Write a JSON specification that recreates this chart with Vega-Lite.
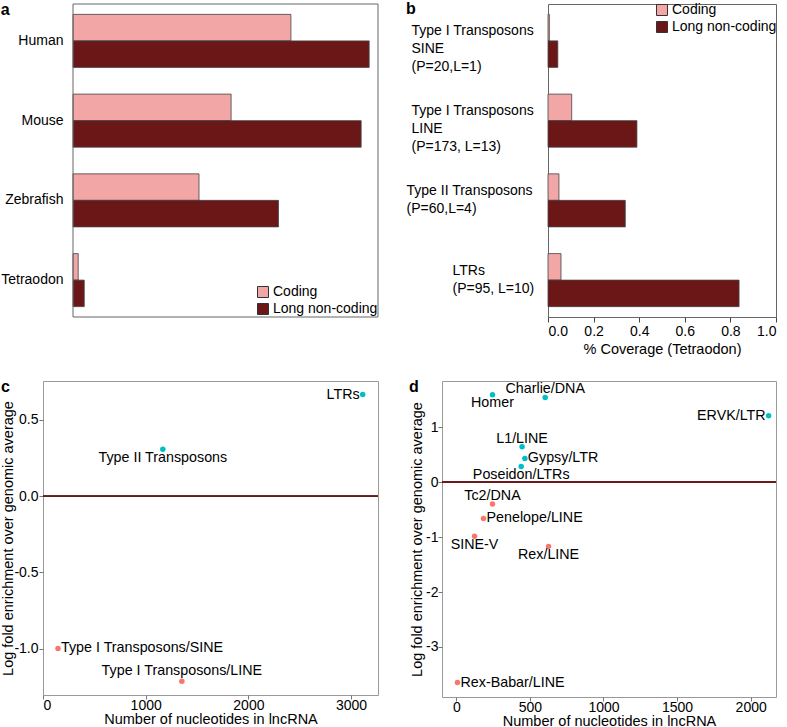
{
  "$schema": "https://vega.github.io/schema/vega-lite/v6.json",
  "background": "white",
  "padding": {"left": 0, "top": 0, "right": 0, "bottom": 0},
  "config": {
    "font": "Liberation Sans",
    "axis": {"labelFontSize": 14, "titleFontSize": 14.5, "titleFontWeight": "normal", "labelColor": "#000", "titleColor": "#000", "grid": false, "domain": false, "tickColor": "#444"},
    "title": {"fontSize": 16, "fontWeight": "bold", "anchor": "start", "frame": "bounds", "color": "#000"},
    "legend": {"labelFontSize": 14, "labelColor": "#000"}
  },
  "spacing": 22,
  "resolve": {"scale": {"color": "independent", "x": "independent", "y": "independent"}, "legend": {"color": "independent"}},
  "vconcat": [
    {
      "spacing": 26,
      "resolve": {"scale": {"color": "independent", "x": "independent", "y": "independent"}, "legend": {"color": "independent"}},
      "hconcat": [
        {
          "width": 335,
          "height": 313,
          "view": {"stroke": null},
          "title": {"text": "a", "offset": -14},
          "data": {"values": [
            {"species": "Human", "type": "Coding", "pct": 54.3},
            {"species": "Human", "type": "Long non-coding", "pct": 73.8},
            {"species": "Mouse", "type": "Coding", "pct": 39.4},
            {"species": "Mouse", "type": "Long non-coding", "pct": 71.8},
            {"species": "Zebrafish", "type": "Coding", "pct": 31.4},
            {"species": "Zebrafish", "type": "Long non-coding", "pct": 51.2},
            {"species": "Tetraodon", "type": "Coding", "pct": 1.3},
            {"species": "Tetraodon", "type": "Long non-coding", "pct": 2.8}
          ]},
          "layer": [
            {
              "mark": {"type": "bar", "stroke": "#444", "strokeWidth": 0.8},
              "encoding": {
                "y": {"field": "species", "type": "nominal", "sort": ["Human", "Mouse", "Zebrafish", "Tetraodon"],
                      "scale": {"paddingInner": 0.335, "paddingOuter": 0.13},
                      "axis": {"title": null, "ticks": false, "tickSize": 0, "labelPadding": 10, "offset": -30}},
                "yOffset": {"field": "type", "type": "nominal", "sort": ["Coding", "Long non-coding"], "scale": {"paddingInner": 0, "paddingOuter": 0}},
                "x": {"field": "pct", "type": "quantitative", "scale": {"domain": [0, 76], "nice": false, "zero": true, "range": [30, 335]},
                      "axis": {"values": [0, 10, 20, 30, 40, 50, 60, 70], "title": "% Genes with TE overlap in exons", "tickSize": 5, "labelPadding": 2, "titlePadding": 4}},
                "color": {"field": "type", "type": "nominal", "scale": {"domain": ["Coding", "Long non-coding"], "range": ["#F2A6A6", "#6B1717"]},
                          "legend": {"title": null, "orient": "bottom-right", "offset": 0.5, "padding": 0, "symbolType": "square", "symbolSize": 121, "symbolStrokeColor": "#333", "symbolStrokeWidth": 1, "symbolOpacity": 1, "rowPadding": 1, "labelOffset": 3}}
              }
            },
            {
              "data": {"values": [{"from": 0, "to": 76}]},
              "mark": {"type": "rect", "fillOpacity": 0, "stroke": "#666", "strokeWidth": 1},
              "encoding": {
                "x": {"field": "from", "type": "quantitative", "scale": {"domain": [0, 76], "nice": false, "zero": true, "range": [30, 335]}, "axis": null},
                "x2": {"field": "to"}
              }
            }
          ]
        },
        {
          "width": 228,
          "height": 313,
          "view": {"stroke": "#666"},
          "title": {"text": "b", "offset": -14},
          "data": {"values": [
            {"family": "Type I Transposons\nSINE\n(P=20,L=1)", "type": "Coding", "coverage": 0.006},
            {"family": "Type I Transposons\nSINE\n(P=20,L=1)", "type": "Long non-coding", "coverage": 0.043},
            {"family": "Type I Transposons\nLINE\n(P=173, L=13)", "type": "Coding", "coverage": 0.104},
            {"family": "Type I Transposons\nLINE\n(P=173, L=13)", "type": "Long non-coding", "coverage": 0.39},
            {"family": "Type II Transposons\n(P=60,L=4)", "type": "Coding", "coverage": 0.048},
            {"family": "Type II Transposons\n(P=60,L=4)", "type": "Long non-coding", "coverage": 0.339},
            {"family": "LTRs\n(P=95, L=10)", "type": "Coding", "coverage": 0.057},
            {"family": "LTRs\n(P=95, L=10)", "type": "Long non-coding", "coverage": 0.838}
          ]},
          "mark": {"type": "bar", "stroke": "#444", "strokeWidth": 0.8},
          "encoding": {
            "y": {"field": "family", "type": "nominal",
                  "sort": ["Type I Transposons\nSINE\n(P=20,L=1)", "Type I Transposons\nLINE\n(P=173, L=13)", "Type II Transposons\n(P=60,L=4)", "LTRs\n(P=95, L=10)"],
                  "scale": {"paddingInner": 0.335, "paddingOuter": 0.13},
                  "axis": {"title": null, "ticks": false, "tickSize": 0, "labelExpr": "split(datum.label, '\\n')",
                           "labelAlign": "left", "labelBaseline": "middle", "labelLineHeight": 18, "labelLimit": 250,
                           "labelPadding": {"condition": [{"test": "indexof(datum.value, 'LTRs') == 0", "value": 96}, {"test": "indexof(datum.value, 'Type II') == 0", "value": 142}], "value": 137},
                           "labelOffset": -9.5}},
            "yOffset": {"field": "type", "type": "nominal", "sort": ["Coding", "Long non-coding"], "scale": {"paddingInner": 0, "paddingOuter": 0}},
            "x": {"field": "coverage", "type": "quantitative", "scale": {"domain": [0, 1], "nice": false},
                  "axis": {"values": [0, 0.2, 0.4, 0.6, 0.8, 1.0], "format": ".1f", "title": "% Coverage (Tetraodon)", "tickSize": 5, "labelPadding": 2, "titlePadding": 4}},
            "color": {"field": "type", "type": "nominal", "scale": {"domain": ["Coding", "Long non-coding"], "range": ["#F2A6A6", "#6B1717"]},
                      "legend": {"title": null, "orient": "top-right", "offset": -1, "padding": 0, "symbolType": "square", "symbolSize": 121, "symbolStrokeColor": "#333", "symbolStrokeWidth": 1, "symbolOpacity": 1, "rowPadding": 1, "labelOffset": 3}}
          }
        }
      ]
    },
    {
      "spacing": 28,
      "hconcat": [
        {
          "width": 335,
          "height": 314,
          "view": {"stroke": "#999"},
          "title": {"text": "c", "offset": -14},
          "data": {"values": [
            {"name": "LTRs", "nt": 3113, "lfe": 0.666},
            {"name": "Type II Transposons", "nt": 1167, "lfe": 0.308},
            {"name": "Type I Transposons/SINE", "nt": 146, "lfe": -0.998},
            {"name": "Type I Transposons/LINE", "nt": 1352, "lfe": -1.213}
          ]},
          "encoding": {
            "x": {"field": "nt", "type": "quantitative", "scale": {"domain": [0, 3262], "nice": false, "zero": false},
                  "axis": {"values": [0, 1000, 2000, 3000], "format": "d", "title": "Number of nucleotides in lncRNA", "tickSize": 4, "labelPadding": -0.5, "titlePadding": 0, "tickColor": "#777"}},
            "y": {"field": "lfe", "type": "quantitative", "scale": {"domain": [-1.303, 0.755], "nice": false, "zero": false},
                  "axis": {"values": [-1, -0.5, 0, 0.5], "format": ".1f", "labelExpr": "replace(datum.label, '\u2212', '-')", "title": "Log fold enrichment over genomic average", "tickSize": 4, "labelPadding": 1, "titlePadding": -2, "tickColor": "#777"}}
          },
          "layer": [
            {"mark": {"type": "rule", "color": "#6B1A1A", "strokeWidth": 1.5}, "encoding": {"y": {"datum": 0}, "x": {"value": 0}, "x2": {"value": "width"}}},
            {"mark": {"type": "circle", "size": 30, "opacity": 1},
             "encoding": {"color": {"condition": {"test": "datum.lfe > 0", "value": "#00BFC4"}, "value": "#F8766D"}}},
            {"transform": [{"filter": {"field": "name", "oneOf": ["LTRs"]}}],
             "mark": {"type": "text", "align": "right", "baseline": "middle", "dx": -3, "fontSize": 14.3, "color": "#000"},
             "encoding": {"text": {"field": "name"}}},
            {"transform": [{"filter": {"field": "name", "oneOf": ["Type I Transposons/SINE"]}}],
             "mark": {"type": "text", "align": "left", "baseline": "middle", "dx": 3, "fontSize": 14.3, "color": "#000"},
             "encoding": {"text": {"field": "name"}}},
            {"transform": [{"filter": {"field": "name", "oneOf": ["Type II Transposons"]}}],
             "mark": {"type": "text", "align": "center", "baseline": "middle", "dy": 8.5, "fontSize": 14.3, "color": "#000"},
             "encoding": {"text": {"field": "name"}}},
            {"transform": [{"filter": {"field": "name", "oneOf": ["Type I Transposons/LINE"]}}],
             "mark": {"type": "text", "align": "center", "baseline": "middle", "dy": -10, "fontSize": 14.3, "color": "#000"},
             "encoding": {"text": {"field": "name"}}}
          ]
        },
        {
          "width": 334,
          "height": 316,
          "view": {"stroke": "#999"},
          "title": {"text": "d", "offset": -14},
          "data": {"values": [
            {"name": "Homer", "nt": 246, "lfe": 1.589},
            {"name": "Charlie/DNA", "nt": 604, "lfe": 1.54},
            {"name": "ERVK/LTR", "nt": 2122, "lfe": 1.207},
            {"name": "L1/LINE", "nt": 447, "lfe": 0.643},
            {"name": "Gypsy/LTR", "nt": 466, "lfe": 0.431},
            {"name": "Poseidon/LTRs", "nt": 441, "lfe": 0.285},
            {"name": "Tc2/DNA", "nt": 246, "lfe": -0.4},
            {"name": "Penelope/LINE", "nt": 185, "lfe": -0.66},
            {"name": "SINE-V", "nt": 124, "lfe": -0.987},
            {"name": "Rex/LINE", "nt": 627, "lfe": -1.169},
            {"name": "Rex-Babar/LINE", "nt": 8, "lfe": -3.647}
          ]},
          "encoding": {
            "x": {"field": "nt", "type": "quantitative", "scale": {"domain": [-97, 2172], "nice": false, "zero": false},
                  "axis": {"values": [0, 500, 1000, 1500, 2000], "format": "d", "title": "Number of nucleotides in lncRNA", "tickSize": 4, "labelPadding": -0.5, "titlePadding": 0, "tickColor": "#777"}},
            "y": {"field": "lfe", "type": "quantitative", "scale": {"domain": [-3.91, 1.84], "nice": false, "zero": false},
                  "axis": {"values": [-3, -2, -1, 0, 1], "labelExpr": "replace(datum.label, '\u2212', '-')", "title": "Log fold enrichment over genomic average", "tickSize": 4, "labelPadding": 0, "titlePadding": 1.5, "tickColor": "#777"}}
          },
          "layer": [
            {"mark": {"type": "rule", "color": "#6B1A1A", "strokeWidth": 1.5}, "encoding": {"y": {"datum": 0}, "x": {"value": 0}, "x2": {"value": "width"}}},
            {"mark": {"type": "circle", "size": 30, "opacity": 1},
             "encoding": {"color": {"condition": {"test": "datum.lfe > 0", "value": "#00BFC4"}, "value": "#F8766D"}}},
            {"transform": [{"filter": {"field": "name", "oneOf": ["ERVK/LTR"]}}],
             "mark": {"type": "text", "align": "right", "baseline": "middle", "dx": -3, "fontSize": 14.3, "color": "#000"},
             "encoding": {"text": {"field": "name"}}},
            {"transform": [{"filter": {"field": "name", "oneOf": ["Gypsy/LTR", "Penelope/LINE", "Rex-Babar/LINE"]}}],
             "mark": {"type": "text", "align": "left", "baseline": "middle", "dx": 3, "fontSize": 14.3, "color": "#000"},
             "encoding": {"text": {"field": "name"}}},
            {"transform": [{"filter": {"field": "name", "oneOf": ["Homer", "Poseidon/LTRs", "SINE-V", "Rex/LINE"]}}],
             "mark": {"type": "text", "align": "center", "baseline": "middle", "dy": 8.5, "fontSize": 14.3, "color": "#000"},
             "encoding": {"text": {"field": "name"}}},
            {"transform": [{"filter": {"field": "name", "oneOf": ["Charlie/DNA", "L1/LINE", "Tc2/DNA"]}}],
             "mark": {"type": "text", "align": "center", "baseline": "middle", "dy": -8, "fontSize": 14.3, "color": "#000"},
             "encoding": {"text": {"field": "name"}}}
          ]
        }
      ]
    }
  ]
}
